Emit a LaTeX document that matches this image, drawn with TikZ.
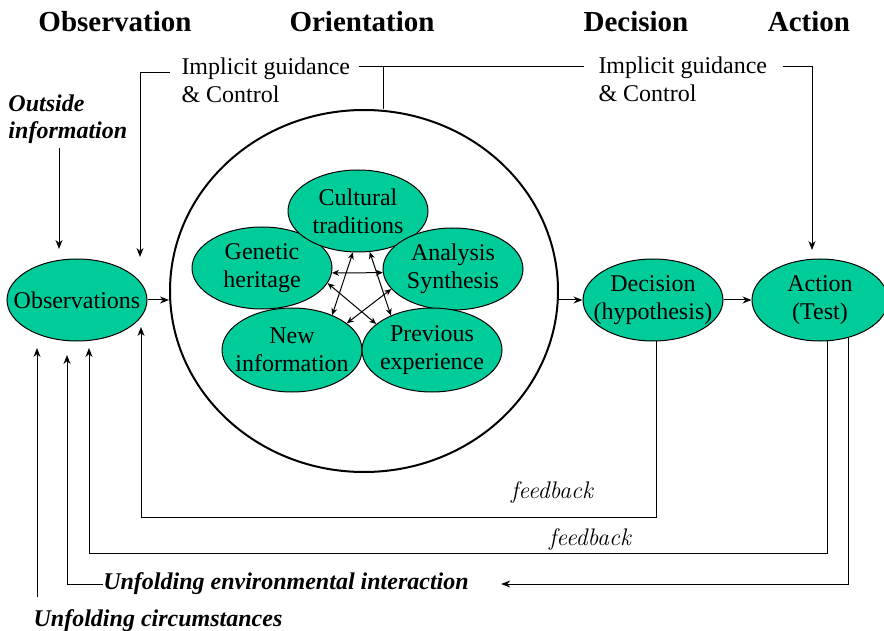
\documentclass[tikz,border=0pt]{standalone}
\usepackage{fontspec}
\setmainfont{Liberation Serif}
\newfontfamily\fbfont{Latin Modern Roman}
\usetikzlibrary{arrows.meta, shapes.geometric, positioning}
\definecolor{oodagreen}{RGB}{0,204,153}

\begin{document}
\begin{tikzpicture}[x=1pt,y=-1pt,line width=1pt,>={Stealth[length=9pt,width=7pt]},
      every node/.style={font=\fontsize{24}{28}\selectfont},
      blob/.style={ellipse,draw,fill=oodagreen,minimum width=140pt,minimum height=82pt,
        inner xsep=-20pt,inner ysep=0pt,align=center},
      head/.style={font=\fontsize{29}{34}\selectfont\bfseries},
      note/.style={font=\fontsize{24}{27}\selectfont\bfseries\itshape,align=left,inner sep=0pt},
      fb/.style={font=\fontsize{24}{28}\selectfont\fbfont\itshape,inner sep=0pt},
      guide/.style={align=left,anchor=north west,inner sep=0pt},
      star/.style={<->,>={Stealth[length=7pt,width=6pt]}}]
  \useasboundingbox (0,0) rectangle (884,631);

  % phase titles
  \node[head] (hobs) at (115,22) {Observation};
  \node[head] (hori) at (362,22) {Orientation};
  \node[head] (hdec) at (636,22) {Decision};
  \node[head] (hact) at (809,22) {Action};

  \node[guide] (guide1) at (181,57) {Implicit guidance\\\& Control};
  \node[guide] (guide2) at (598,56) {Implicit guidance\\\& Control};
  \node[note,anchor=west] (outside) at (8,119) {Outside\\information};

  % main loop
  \node[blob] (obs) at (77,300) {Observations};
  \node[ellipse,draw,line width=2pt,minimum width=388pt,minimum height=362pt] (orient) at (364,291) {};
  \node[blob] (dec) at (653,300) {Decision\\(hypothesis)};
  \node[blob,minimum width=136pt] (act) at (820,300) {Action\\(Test)};

  % orientation
  \node[blob] (gene) at (262,268) {Genetic\\heritage};
  \node[blob] (cult) at (358,211) {Cultural\\traditions};
  \node[blob] (anal) at (453,269) {Analysis\\Synthesis};
  \node[blob,minimum height=84pt] (newi) at (292,350) {New\\information};
  \node[blob,minimum height=84pt] (prev) at (432,350) {Previous\\experience};

  \draw[star] (cult.263) -- (newi.41);
  \draw[star] (cult.286) -- (prev.140);
  \draw[star] (gene.-4) -- (anal.183);
  \draw[star] (gene.-13) -- (prev.155);
  \draw[star] (anal.198) -- (newi.26);

  \node[fb] (fb1) at (552,492) {feedback};
  \node[fb] (fb2) at (590,539) {feedback};
  \node[note] (envi) at (286,584) {Unfolding environmental interaction};
  \node[note] (circ) at (158,621) {Unfolding circumstances};

  \coordinate (tipA) at (37,348);
  \coordinate (tipB) at (67,355);
  \coordinate (tipC) at (89,348);
  \coordinate (tipD) at (141,327);
  \coordinate (tipE) at (140,257);
  \coordinate (tipF) at (59,249);
  \coordinate (tipG) at (812,250);
  \coordinate (gla) at (170,73);
  \coordinate (gm) at (383,67);
  \coordinate (fbl1) at (141,517);
  \coordinate (fbl2) at (89,553);

  \draw[->] (obs.east) -- (obs.east -| orient.west);
  \draw[->] (dec.west -| orient.east) -- (dec.west);
  \draw[->] (dec) -- (act);

  \draw[->] (gla) -| (tipE);
  \draw[shorten <=8pt,shorten >=14pt] (guide1.east |- gm) -- (guide2.west |- gm);
  \draw (gm) -- (gm |- orient.north);
  \draw[->,shorten <=15pt] (guide2.east |- gm) -| (tipG);
  \draw[->,shorten <=4pt] (outside.south -| tipF) -- (tipF);

  \draw[->] (dec.-85) |- (fbl1) -- (tipD);
  \draw[->] (act.-80) |- (fbl2) -- (tipC);
  \draw[->,shorten >=32pt] (act.-53) |- (envi.east);
  \draw[->] (envi.west) -| (tipB);
  \draw[->,shorten <=12pt] (circ.north -| tipA) -- (tipA);
\end{tikzpicture}
\end{document}
